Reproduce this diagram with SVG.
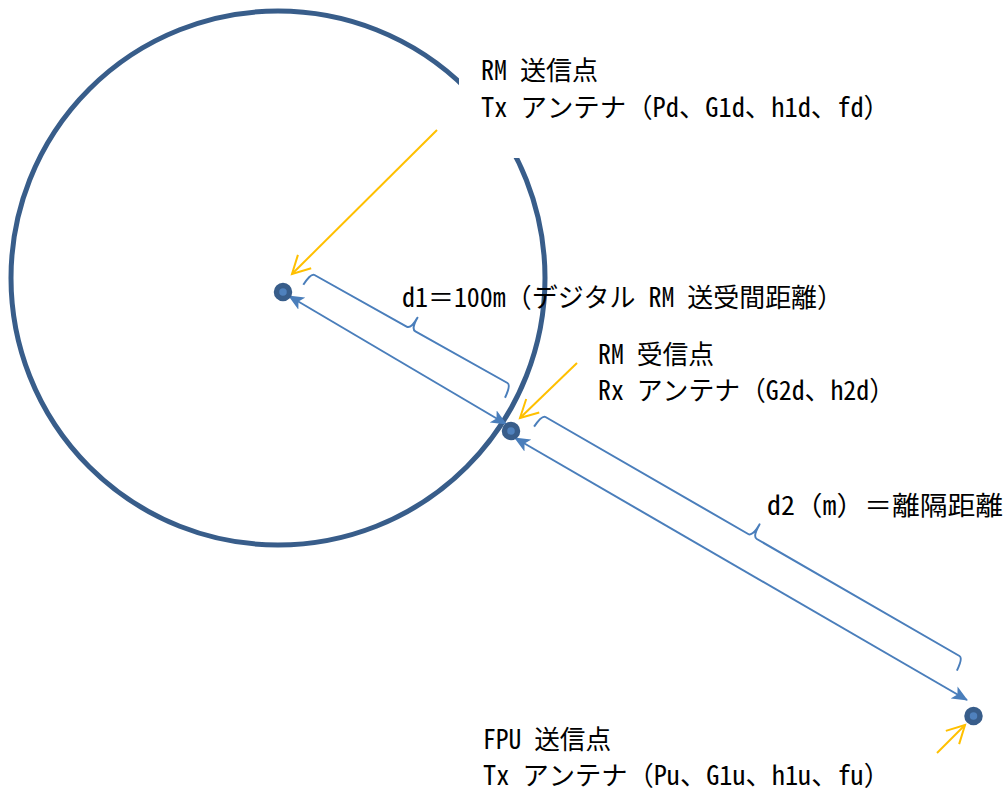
<svg xmlns="http://www.w3.org/2000/svg" width="1006" height="794" viewBox="0 0 1006 794">
<style>
text{font-family:"Noto Sans Mono CJK JP","Noto Sans CJK JP","Liberation Sans",sans-serif;font-size:26.5px;fill:#000}
.ring{fill:none;stroke:#385D8A;stroke-width:5}
.dot{fill:#4F81BD;stroke:#385D8A;stroke-width:5.5}
.meas{fill:none;stroke:#4A7EBB;stroke-width:2}
.brace{fill:none;stroke:#4A7EBB;stroke-width:2;stroke-linejoin:round}
.ptr{fill:none;stroke:#FFC000;stroke-width:2}
.bg{fill:#fff}
</style>
<defs>
<marker id="stealth" viewBox="0 0 16 14" refX="15" refY="7" markerWidth="16" markerHeight="14" markerUnits="userSpaceOnUse" orient="auto-start-reverse">
<path d="M0,0 L16,7 L0,14 L4,7 Z" fill="#4A7EBB"/>
</marker>
<marker id="open" viewBox="-22 -12 24 24" refX="0" refY="0" markerWidth="24" markerHeight="24" markerUnits="userSpaceOnUse" orient="auto" overflow="visible">
<path d="M-17.7,-9.4 L0,0 L-17.7,9.4" fill="none" stroke="#FFC000" stroke-width="2" stroke-linejoin="miter"/>
</marker>
</defs>

<g id="range-circle">
<circle class="ring" cx="278" cy="278" r="267"/>
</g>

<g id="connectors">
<line class="meas" x1="506" y1="424" x2="289" y2="296" marker-start="url(#stealth)" marker-end="url(#stealth)"/>
<line class="meas" x1="515" y1="438" x2="967" y2="700" marker-start="url(#stealth)" marker-end="url(#stealth)"/>
<path class="brace" d="M303.3,284.7 Q311,273 314.5,275 L406.6,326.6 Q411,329 417.4,317.7 Q411,329 415.4,331.4 L507.5,383 Q511,385 505,397.7"/>
<path class="brace" d="M534.1,426.6 Q542,415 545.5,417 L748.2,534 Q752.5,536.5 759.5,524.4 Q752.5,536.5 756.8,539 L959.5,656 Q963,658 956.9,670.6"/>
<line class="ptr" x1="437" y1="130" x2="292" y2="274" marker-end="url(#open)"/>
<line class="ptr" x1="577" y1="363" x2="520" y2="418" marker-end="url(#open)"/>
<line class="ptr" x1="937" y1="753" x2="965" y2="725" marker-end="url(#open)"/>
</g>

<g id="rm-tx-point">
<circle class="dot" cx="283" cy="292" r="6.5"/>
</g>
<g id="rm-rx-point">
<circle class="dot" cx="511" cy="431" r="6.5"/>
</g>
<g id="fpu-tx-point">
<circle class="dot" cx="973.5" cy="716" r="6.5"/>
</g>

<g id="label-rm-tx">
<rect class="bg" x="459" y="40" width="450" height="118"/>
<text x="481" y="80" textLength="117" lengthAdjust="spacingAndGlyphs">RM 送信点</text>
<text x="481" y="117" textLength="409" lengthAdjust="spacingAndGlyphs">Tx アンテナ（Pd、G1d、h1d、fd）</text>
</g>

<g id="label-d1">
<text x="402" y="307" textLength="441" lengthAdjust="spacingAndGlyphs">d1＝100m（デジタル RM 送受間距離）</text>
</g>

<g id="label-rm-rx">
<text x="598" y="364" textLength="116" lengthAdjust="spacingAndGlyphs">RM 受信点</text>
<text x="598" y="400" textLength="297" lengthAdjust="spacingAndGlyphs">Rx アンテナ（G2d、h2d）</text>
</g>

<g id="label-d2">
<text x="767" y="515" textLength="236" lengthAdjust="spacingAndGlyphs">d2（m）＝離隔距離</text>
</g>

<g id="label-fpu-tx">
<text x="483" y="749" textLength="128" lengthAdjust="spacingAndGlyphs">FPU 送信点</text>
<text x="483" y="785" textLength="407" lengthAdjust="spacingAndGlyphs">Tx アンテナ（Pu、G1u、h1u、fu）</text>
</g>
</svg>
